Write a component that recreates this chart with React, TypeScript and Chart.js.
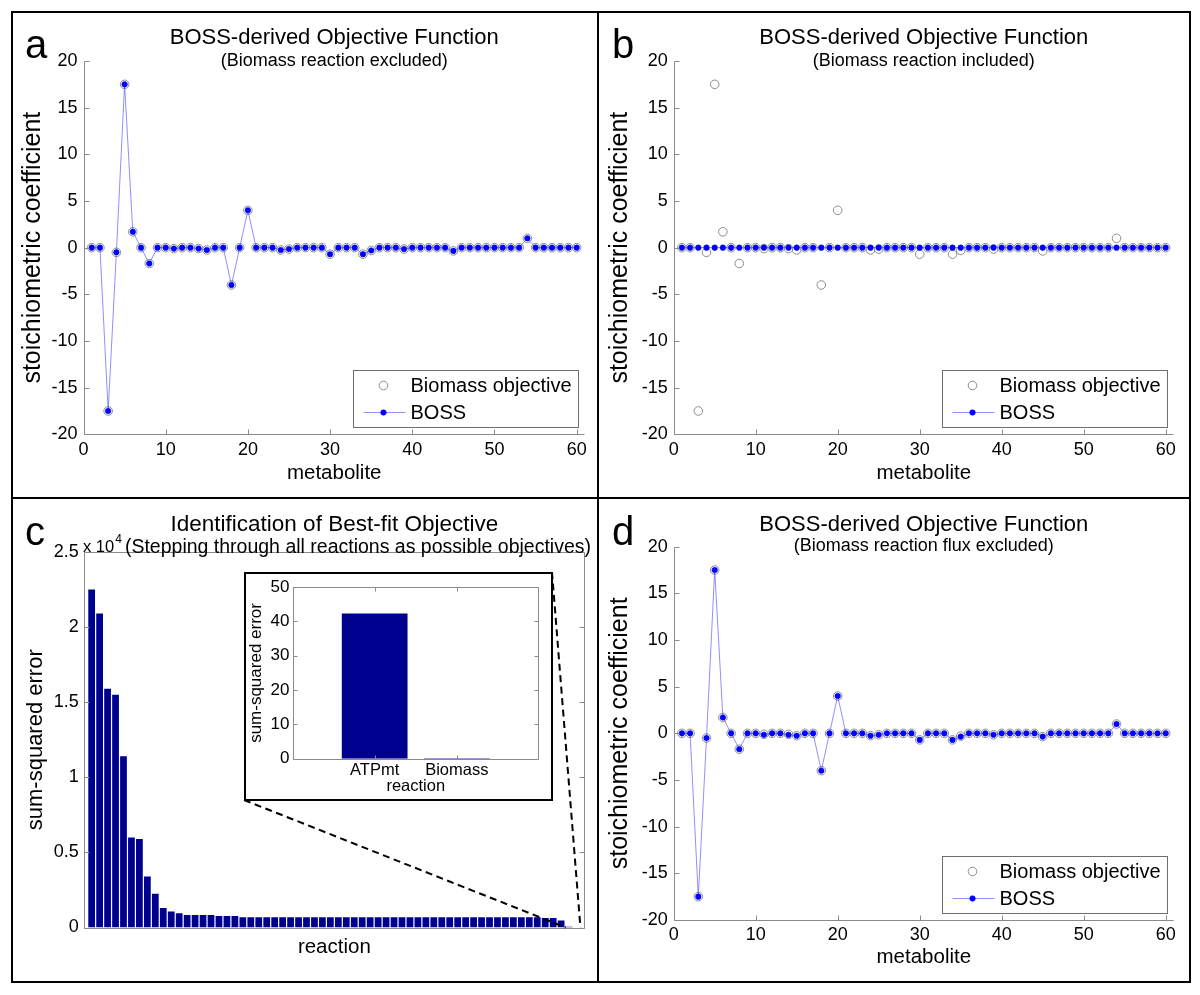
import React, { useEffect, useRef } from 'react';
import { Chart, registerables } from 'chart.js';

Chart.register(...registerables);

const FONT = '"Liberation Sans", Arial, Helvetica, sans-serif';
Chart.defaults.font.family = FONT;
Chart.defaults.color = '#000';

// ---------------- data ----------------
const metaboliteIds = [
  1, 2, 3, 4, 5, 6, 7, 8, 9, 10, 11, 12, 13, 14, 15, 16, 17, 18, 19, 20,
  21, 22, 23, 24, 25, 26, 27, 28, 29, 30, 31, 32, 33, 34, 35, 36, 37, 38, 39, 40,
  41, 42, 43, 44, 45, 46, 47, 48, 49, 50, 51, 52, 53, 54, 55, 56, 57, 58, 59, 60,
];

const biomassObjective = [
  0, 0, -17.5, -0.5, 17.5, 1.7, 0, -1.7, 0, 0,
  -0.1, 0, 0, -0.1, -0.25, 0, 0, -4, 0, 4,
  0, 0, 0, -0.25, -0.15, 0, 0, 0, 0, -0.7,
  0, 0, 0, -0.7, -0.3, 0, 0, 0, -0.15, 0,
  0, 0, 0, 0, -0.35, 0, 0, 0, 0, 0,
  0, 0, 0, 1, 0, 0, 0, 0, 0, 0,
];

// panel a: biomass reaction excluded
const bossExcluded = [
  0, 0, -17.5, -0.5, 17.5, 1.7, 0, -1.7, 0, 0,
  -0.1, 0, 0, -0.1, -0.25, 0, 0, -4, 0, 4,
  0, 0, 0, -0.25, -0.15, 0, 0, 0, 0, -0.7,
  0, 0, 0, -0.7, -0.3, 0, 0, 0, -0.15, 0,
  0, 0, 0, 0, -0.35, 0, 0, 0, 0, 0,
  0, 0, 0, 1, 0, 0, 0, 0, 0, 0,
];

// panel b: biomass reaction included
const bossIncluded = [
  0, 0, 0, 0, 0, 0, 0, 0, 0, 0,
  0, 0, 0, 0, 0, 0, 0, 0, 0, 0,
  0, 0, 0, 0, 0, 0, 0, 0, 0, 0,
  0, 0, 0, 0, 0, 0, 0, 0, 0, 0,
  0, 0, 0, 0, 0, 0, 0, 0, 0, 0,
  0, 0, 0, 0, 0, 0, 0, 0, 0, 0,
];

// panel d: biomass reaction flux excluded
const bossFluxExcluded = [
  0, 0, -17.5, -0.5, 17.5, 1.7, 0, -1.7, 0, 0,
  -0.15, 0, 0, -0.15, -0.25, 0, 0, -4, 0, 4,
  0, 0, 0, -0.25, -0.15, 0, 0, 0, 0, -0.7,
  0, 0, 0, -0.7, -0.35, 0, 0, 0, -0.15, 0,
  0, 0, 0, 0, -0.35, 0, 0, 0, 0, 0,
  0, 0, 0, 1, 0, 0, 0, 0, 0, 0,
];

const coefficientTicks = [-20, -15, -10, -5, 0, 5, 10, 15, 20];
const metaboliteTicks = [0, 10, 20, 30, 40, 50, 60];

const reactionIds = [
  1, 2, 3, 4, 5, 6, 7, 8, 9, 10, 11, 12, 13, 14, 15, 16, 17, 18, 19, 20,
  21, 22, 23, 24, 25, 26, 27, 28, 29, 30, 31, 32, 33, 34, 35, 36, 37, 38, 39, 40,
  41, 42, 43, 44, 45, 46, 47, 48, 49, 50, 51, 52, 53, 54, 55, 56, 57, 58, 59, 60,
  61, 62,
];

const sumSquaredError = [
  22500, 20900, 15900, 15500, 11400, 6000, 5900, 3400, 2250, 1300,
  1060, 950, 840, 840, 840, 840, 770, 770, 770, 690,
  690, 690, 690, 690, 690, 690, 690, 690, 690, 690,
  690, 690, 690, 690, 690, 690, 690, 690, 690, 690,
  690, 690, 690, 690, 690, 690, 690, 690, 690, 690,
  690, 690, 690, 690, 690, 690, 690, 640, 640, 460,
  42.3, 0.1,
];
const sseTickValues = [0, 5000, 10000, 15000, 20000, 25000];
const sseExponent = 4;

const insetReactions = ['ATPmt', 'Biomass'];
const insetSumSquaredError = [42.3, 0.1];
const insetTicks = [0, 10, 20, 30, 40, 50];

// ---------------- styles / layout ----------------
const NAVY = '#00008f';
const BLUE = '#0000ff';
const BOSS_LINE = 'rgba(70,70,255,0.6)';
const MARK_GRAY = '#8c8c8c';
const AXIS_GRAY = '#8a8a8a';

const PANEL_A = { left: 12, top: 12, width: 585, height: 485 };
const PANEL_B = { left: 599, top: 12, width: 590, height: 485 };
const PANEL_C = { left: 12, top: 499, width: 585, height: 482 };
const PANEL_D = { left: 599, top: 499, width: 590, height: 482 };
const AREA_A = { left: 71.5, right: 572.9, top: 49, bottom: 422.3 };
const AREA_B = { left: 74.7, right: 574.9, top: 49, bottom: 422.3 };
const AREA_C = { left: 71.7, right: 573, top: 53, bottom: 428.5 };
const AREA_D = { left: 74.7, right: 574.9, top: 47.7, bottom: 421 };
const INSET = { left: 244, top: 572, width: 309, height: 229, border: 2 };
const INSET_AREA = { left: 46.5, right: 293, top: 9.3, bottom: 184.7 };

function toPoints(xs: any[], ys: number[]) {
  return ys.map((y, i) => ({ x: xs[i], y }));
}
function fixedTicks(values: number[]) {
  return (scale: any) => {
    scale.ticks = values.map((value) => ({ value }));
  };
}

// ---------------- plugins ----------------
const matlabAxesPlugin = {
  id: 'matlabAxes',
  afterDatasetsDraw(chart: any, _args: any, opts: any) {
    const { ctx, chartArea } = chart;
    const xs = chart.scales.x;
    const ys = chart.scales.y;
    const L = opts.tickLength ?? 5;
    const l = Math.round(chartArea.left) + 0.5;
    const r = Math.round(chartArea.right) - 0.5;
    const t = Math.round(chartArea.top) + 0.5;
    const b = Math.round(chartArea.bottom) + 0.5;
    ctx.save();
    ctx.strokeStyle = AXIS_GRAY;
    ctx.lineWidth = 1;
    ctx.beginPath();
    ctx.moveTo(l, t);
    ctx.lineTo(l, b);
    ctx.lineTo(r, b);
    if (opts.box) {
      ctx.lineTo(r, t);
      ctx.lineTo(l, t);
    }
    ctx.stroke();
    ctx.beginPath();
    for (const tk of ys.ticks) {
      const py = Math.round(ys.getPixelForValue(tk.value)) + 0.5;
      ctx.moveTo(l, py);
      ctx.lineTo(l + L, py);
      if (opts.box) {
        ctx.moveTo(r, py);
        ctx.lineTo(r - L, py);
      }
    }
    if (opts.xTicks) {
      for (const tk of xs.ticks) {
        const px = Math.round(xs.getPixelForValue(tk.value)) + 0.5;
        ctx.moveTo(px, b);
        ctx.lineTo(px, b - L);
        if (opts.box) {
          ctx.moveTo(px, t);
          ctx.lineTo(px, t + L);
        }
      }
    }
    ctx.stroke();
    ctx.restore();
  },
};

const boxLegendPlugin = {
  id: 'boxLegend',
  afterDraw(chart: any, _args: any, opts: any) {
    if (!opts || !opts.display) return;
    const { ctx, chartArea } = chart;
    const ds = chart.data.datasets;
    ctx.save();
    ctx.font = `${opts.fontSize}px ${FONT}`;
    const textW = Math.max(...ds.map((d: any) => ctx.measureText(d.label).width));
    const w = Math.round(57 + textW + 7);
    const h = 57;
    const x0 = Math.round(chartArea.right - opts.inset - w) + 0.5;
    const y0 = Math.round(chartArea.bottom - opts.inset - h) + 0.5;
    ctx.fillStyle = '#fff';
    ctx.fillRect(x0, y0, w, h);
    ctx.strokeStyle = '#6e6e6e';
    ctx.lineWidth = 1;
    ctx.strokeRect(x0, y0, w, h);
    ds.forEach((d: any, i: number) => {
      const cy = y0 + 15 + i * 27;
      if (d.showLine) {
        ctx.beginPath();
        ctx.strokeStyle = d.borderColor;
        ctx.lineWidth = d.borderWidth;
        ctx.moveTo(x0 + 10, cy);
        ctx.lineTo(x0 + 52, cy);
        ctx.stroke();
      }
      ctx.beginPath();
      ctx.arc(x0 + 30, cy, d.pointRadius, 0, Math.PI * 2);
      ctx.fillStyle = d.pointBackgroundColor;
      ctx.fill();
      ctx.lineWidth = d.pointBorderWidth;
      ctx.strokeStyle = d.pointBorderColor;
      ctx.stroke();
      ctx.fillStyle = '#000';
      ctx.textBaseline = 'middle';
      ctx.textAlign = 'left';
      ctx.fillText(d.label, x0 + 57, cy + 1);
    });
    ctx.restore();
  },
};

const zoomLinesPlugin = {
  id: 'zoomLines',
  afterDatasetsDraw(chart: any, _args: any, opts: any) {
    const meta = chart.getDatasetMeta(0);
    const a = meta.data[opts.leftIndex];
    const b = meta.data[opts.rightIndex];
    if (!a || !b) return;
    const pa = a.getProps(['x', 'width', 'base'], true);
    const pb = b.getProps(['x', 'width', 'base'], true);
    const { ctx } = chart;
    ctx.save();
    ctx.setLineDash([7, 4.5]);
    ctx.lineWidth = 2;
    ctx.strokeStyle = '#000';
    ctx.beginPath();
    ctx.moveTo(opts.blX, opts.blY);
    ctx.lineTo(pa.x - pa.width / 2, pa.base);
    ctx.moveTo(opts.trX, opts.trY);
    ctx.lineTo(pb.x + pb.width / 2, pb.base);
    ctx.stroke();
    ctx.restore();
  },
};

// ---------------- configs ----------------
const tickFont = { size: 18 };
const xTitleFont = { size: 20.5 };
const yTitleFont = { size: 25 };

function scatterConfig(panel: any, area: any, boss: number[]): any {
  return {
    type: 'scatter',
    data: {
      datasets: [
        {
          label: 'Biomass objective',
          data: toPoints(metaboliteIds, biomassObjective),
          order: 1,
          showLine: false,
          pointRadius: 4.3,
          pointBackgroundColor: 'rgba(255,255,255,0)',
          pointBorderColor: MARK_GRAY,
          pointBorderWidth: 1,
          borderColor: MARK_GRAY,
          backgroundColor: 'rgba(255,255,255,0)',
        },
        {
          label: 'BOSS',
          data: toPoints(metaboliteIds, boss),
          order: 0,
          showLine: true,
          borderColor: BOSS_LINE,
          borderWidth: 1,
          pointRadius: 2.8,
          pointBackgroundColor: BLUE,
          pointBorderColor: BLUE,
          pointBorderWidth: 0.5,
          backgroundColor: BLUE,
        },
      ],
    },
    options: {
      animation: false,
      responsive: true,
      maintainAspectRatio: false,
      events: [],
      layout: { padding: { left: 0, top: area.top, right: panel.width - area.right, bottom: 0 } },
      plugins: {
        legend: { display: false },
        tooltip: { enabled: false },
        matlabAxes: { box: false, xTicks: true, tickLength: 5 },
        boxLegend: { display: true, fontSize: 20, inset: 7 },
      },
      scales: {
        x: {
          type: 'linear',
          min: 0,
          max: 61,
          afterBuildTicks: fixedTicks(metaboliteTicks),
          ticks: { padding: 4.5, font: tickFont, color: '#000', maxRotation: 0, autoSkip: false },
          grid: { display: false, drawTicks: false },
          border: { display: false },
          title: { display: true, text: 'metabolite', font: xTitleFont, color: '#000', padding: { top: 0, bottom: 11 } },
          afterFit: (s: any) => {
            s.height = panel.height - area.bottom;
          },
        },
        y: {
          type: 'linear',
          min: -20,
          max: 20,
          afterBuildTicks: fixedTicks(coefficientTicks),
          ticks: { padding: 6, font: tickFont, color: '#000' },
          grid: { display: false, drawTicks: false },
          border: { display: false },
          title: { display: true, text: 'stoichiometric coefficient', font: yTitleFont, color: '#000', padding: { top: 6, bottom: 0 } },
          afterFit: (s: any) => {
            s.width = area.left;
          },
        },
      },
    },
    plugins: [matlabAxesPlugin, boxLegendPlugin],
  };
}

function barConfig(): any {
  return {
    type: 'bar',
    data: {
      datasets: [
        {
          label: 'sum-squared error',
          data: toPoints(reactionIds, sumSquaredError),
          backgroundColor: NAVY,
          borderWidth: 0,
          barPercentage: 0.85,
          categoryPercentage: 1,
        },
      ],
    },
    options: {
      animation: false,
      responsive: true,
      maintainAspectRatio: false,
      events: [],
      layout: { padding: { left: 0, top: AREA_C.top, right: PANEL_C.width - AREA_C.right, bottom: 0 } },
      plugins: {
        legend: { display: false },
        tooltip: { enabled: false },
        matlabAxes: { box: true, xTicks: false, tickLength: 5 },
        zoomLines: {
          leftIndex: 60,
          rightIndex: 61,
          blX: INSET.left - PANEL_C.left,
          blY: INSET.top + INSET.height - PANEL_C.top - 1,
          trX: INSET.left + INSET.width - PANEL_C.left - 1,
          trY: INSET.top - PANEL_C.top,
        },
      },
      scales: {
        x: {
          type: 'linear',
          offset: false,
          min: 0,
          max: 63,
          ticks: { display: false },
          grid: { display: false, drawTicks: false },
          border: { display: false },
          title: { display: true, text: 'reaction', font: xTitleFont, color: '#000', padding: { top: 0, bottom: 21 } },
          afterFit: (s: any) => {
            s.height = PANEL_C.height - AREA_C.bottom;
          },
        },
        y: {
          type: 'linear',
          min: 0,
          max: 25000,
          afterBuildTicks: fixedTicks(sseTickValues),
          ticks: { padding: 5, font: tickFont, color: '#000', callback: (v: number) => String(v / Math.pow(10, sseExponent)) },
          grid: { display: false, drawTicks: false },
          border: { display: false },
          title: { display: true, text: 'sum-squared error', font: { size: 22 }, color: '#000', padding: { top: 10.5, bottom: 0 } },
          afterFit: (s: any) => {
            s.width = AREA_C.left;
          },
        },
      },
    },
    plugins: [matlabAxesPlugin, zoomLinesPlugin],
  };
}

function insetConfig(): any {
  const innerW = INSET.width - 2 * INSET.border;
  const innerH = INSET.height - 2 * INSET.border;
  const positions = insetReactions.map((_, i) => i + 1);
  return {
    type: 'bar',
    data: {
      datasets: [
        {
          label: 'sum-squared error',
          data: toPoints(positions, insetSumSquaredError),
          backgroundColor: NAVY,
          borderWidth: 0,
          barPercentage: 0.8,
          categoryPercentage: 1,
        },
      ],
    },
    options: {
      animation: false,
      responsive: true,
      maintainAspectRatio: false,
      events: [],
      layout: { padding: { left: 0, top: INSET_AREA.top, right: innerW - INSET_AREA.right, bottom: 0 } },
      plugins: {
        legend: { display: false },
        tooltip: { enabled: false },
        matlabAxes: { box: true, xTicks: true, tickLength: 4 },
      },
      scales: {
        x: {
          type: 'linear',
          offset: false,
          min: 0,
          max: insetReactions.length + 1,
          afterBuildTicks: fixedTicks(positions),
          ticks: { padding: 1.5, font: { size: 16.5 }, color: '#000', maxRotation: 0, autoSkip: false, callback: (v: number) => insetReactions[v - 1] ?? '' },
          grid: { display: false, drawTicks: false },
          border: { display: false },
          title: { display: true, text: 'reaction', font: { size: 16.5 }, color: '#000', padding: { top: 0, bottom: 2.5 } },
          afterFit: (s: any) => {
            s.height = innerH - INSET_AREA.bottom;
          },
        },
        y: {
          type: 'linear',
          min: 0,
          max: 50,
          afterBuildTicks: fixedTicks(insetTicks),
          ticks: { padding: 3, font: { size: 17 }, color: '#000' },
          grid: { display: false, drawTicks: false },
          border: { display: false },
          title: { display: true, text: 'sum-squared error', font: { size: 17 }, color: '#000', padding: { top: 0, bottom: 0 } },
          afterFit: (s: any) => {
            s.width = INSET_AREA.left;
          },
        },
      },
    },
    plugins: [matlabAxesPlugin],
  };
}

// ---------------- components ----------------
function ChartBox({ box, make, style }: { box: any; make: () => any; style?: any }) {
  const ref = useRef<HTMLCanvasElement>(null);
  useEffect(() => {
    const chart = new Chart(ref.current as HTMLCanvasElement, make());
    return () => chart.destroy();
  }, []);
  return (
    <div style={{ position: 'absolute', left: box.left, top: box.top, width: box.width, height: box.height, ...style }}>
      <canvas ref={ref} style={{ display: 'block' }} />
    </div>
  );
}

function CenterText({ text, cx, cy, size }: { text: string; cx: number; cy: number; size: number }) {
  return (
    <div
      style={{
        position: 'absolute',
        left: cx - 400,
        width: 800,
        top: cy - size / 2,
        fontSize: size,
        lineHeight: `${size}px`,
        textAlign: 'center',
        whiteSpace: 'nowrap',
      }}
    >
      {text}
    </div>
  );
}

function Letter({ text, left, baseline }: { text: string; left: number; baseline: number }) {
  const size = 40;
  return (
    <div style={{ position: 'absolute', left, top: baseline - 0.8465 * size, fontSize: size, lineHeight: `${size}px` }}>
      {text}
    </div>
  );
}

export default function App() {
  const cxA = PANEL_A.left + (AREA_A.left + AREA_A.right) / 2;
  const cxB = PANEL_B.left + (AREA_B.left + AREA_B.right) / 2;
  const cxC = PANEL_C.left + (AREA_C.left + AREA_C.right) / 2;
  const cxD = PANEL_D.left + (AREA_D.left + AREA_D.right) / 2;
  return (
    <div
      style={{
        position: 'fixed',
        left: 0,
        top: 0,
        width: 1200,
        height: 995,
        background: '#fff',
        color: '#000',
        fontFamily: FONT,
        overflow: 'hidden',
      }}
    >
      <ChartBox box={PANEL_A} make={() => scatterConfig(PANEL_A, AREA_A, bossExcluded)} />
      <ChartBox box={PANEL_B} make={() => scatterConfig(PANEL_B, AREA_B, bossIncluded)} />
      <ChartBox box={PANEL_C} make={barConfig} />
      <ChartBox box={PANEL_D} make={() => scatterConfig(PANEL_D, AREA_D, bossFluxExcluded)} />
      <ChartBox
        box={{
          left: INSET.left,
          top: INSET.top,
          width: INSET.width,
          height: INSET.height,
        }}
        make={insetConfig}
        style={{ border: `${INSET.border}px solid #000`, boxSizing: 'border-box', background: '#fff' }}
      />

      <CenterText text="BOSS-derived Objective Function" cx={cxA} cy={37} size={22} />
      <CenterText text="(Biomass reaction excluded)" cx={cxA} cy={59.5} size={18} />
      <CenterText text="BOSS-derived Objective Function" cx={cxB} cy={37} size={22} />
      <CenterText text="(Biomass reaction included)" cx={cxB} cy={59.5} size={18} />
      <CenterText text="Identification of Best-fit Objective" cx={cxC} cy={524} size={22.5} />
      <CenterText text="(Stepping through all reactions as possible objectives)" cx={358} cy={546.5} size={19.5} />
      <CenterText text="BOSS-derived Objective Function" cx={cxD} cy={523.5} size={22} />
      <CenterText text="(Biomass reaction flux excluded)" cx={cxD} cy={544.5} size={18} />

      <div style={{ position: 'absolute', left: 83, top: 538, fontSize: 16.5, lineHeight: '16px', whiteSpace: 'nowrap' }}>
        x 10<sup style={{ fontSize: 12, verticalAlign: 'top', position: 'relative', top: -7, marginLeft: 1 }}>{sseExponent}</sup>
      </div>

      <Letter text="a" left={PANEL_A.left + 13} baseline={58} />
      <Letter text="b" left={PANEL_B.left + 13} baseline={58} />
      <Letter text="c" left={PANEL_C.left + 13} baseline={545} />
      <Letter text="d" left={PANEL_D.left + 13} baseline={545} />

      <div style={{ position: 'absolute', left: 11, top: 11, width: 1180, height: 972, border: '2px solid #000', boxSizing: 'border-box' }} />
      <div style={{ position: 'absolute', left: 597, top: 11, width: 2, height: 972, background: '#000' }} />
      <div style={{ position: 'absolute', left: 11, top: 497, width: 1180, height: 2, background: '#000' }} />
    </div>
  );
}
